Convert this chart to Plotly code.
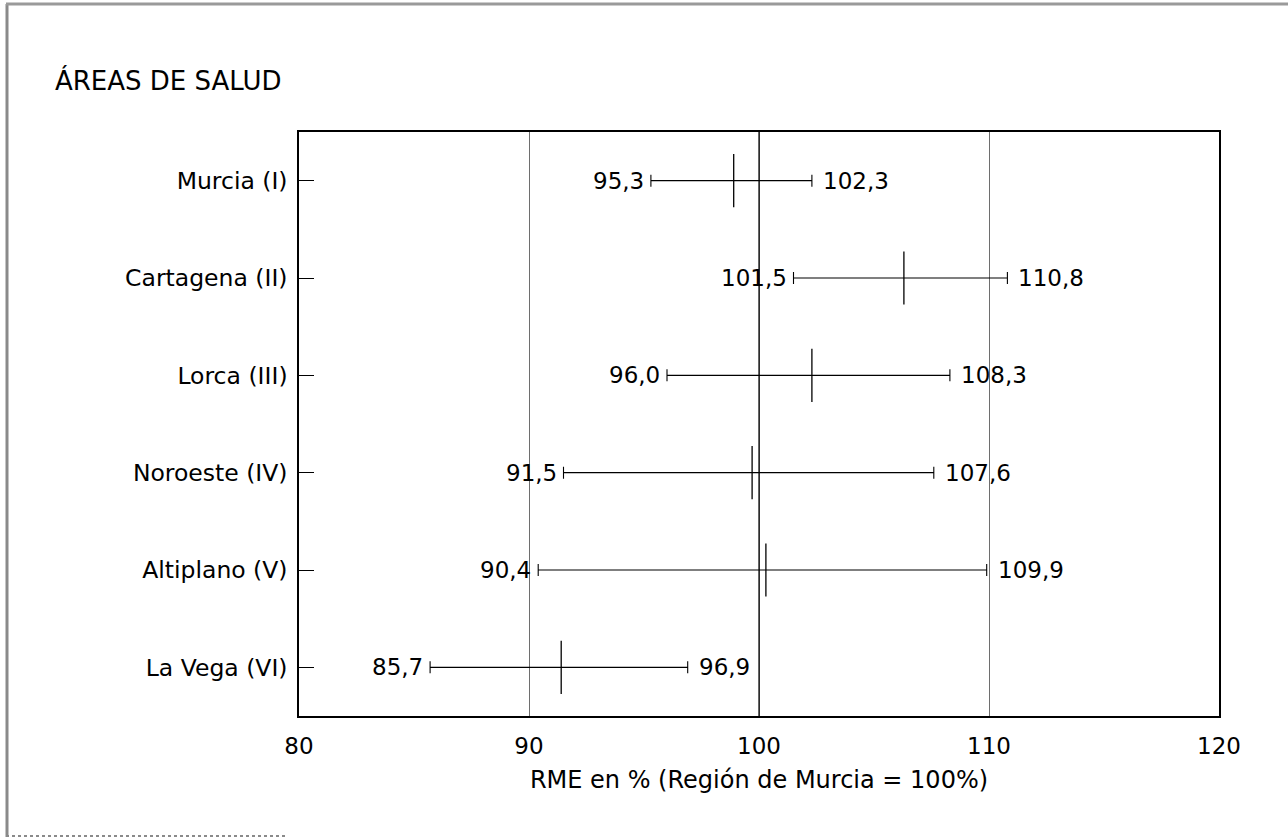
import plotly.graph_objects as go

# ---- data ----
areas = ["Murcia (I)", "Cartagena (II)", "Lorca (III)", "Noroeste (IV)",
         "Altiplano (V)", "La Vega (VI)"]
rme = [98.9, 106.3, 102.3, 99.7, 100.3, 91.4]
ci_low = [95.3, 101.5, 96.0, 91.5, 90.4, 85.7]
ci_high = [102.3, 110.8, 108.3, 107.6, 109.9, 96.9]
x_ticks = [80, 90, 100, 110, 120]
reference_value = 100


def fmt(v):
    return f"{v:.1f}".replace(".", ",")


FONT = "DejaVu Sans"
W, H = 1288, 838
ML, MR, MT, MB = 299, 69, 132, 122

fig = go.Figure()

fig.add_trace(go.Scatter(
    x=rme, y=areas, mode="markers",
    marker=dict(symbol="line-ns", size=38, color="black",
                line=dict(color="black", width=1.3)),
    error_x=dict(type="data", symmetric=False,
                 array=[h - m for h, m in zip(ci_high, rme)],
                 arrayminus=[m - l for m, l in zip(rme, ci_low)],
                 color="black", thickness=1.1, width=6),
    showlegend=False, hoverinfo="skip",
))

annotations = []
for name, lo, hi in zip(areas, ci_low, ci_high):
    annotations.append(dict(x=lo, y=name, xref="x", yref="y", text=fmt(lo),
                            showarrow=False, xanchor="right", yanchor="middle",
                            xshift=-5, font=dict(family=FONT, size=23, color="black")))
    annotations.append(dict(x=hi, y=name, xref="x", yref="y", text=fmt(hi),
                            showarrow=False, xanchor="left", yanchor="middle",
                            xshift=9, font=dict(family=FONT, size=23, color="black")))

pw, ph = W - ML - MR, H - MT - MB


def px(xp):
    return (xp - ML) / pw


def py(yp):
    return (H - MB - yp) / ph


annotations.append(dict(x=px(53), y=py(80), xref="paper", yref="paper",
                        text="ÁREAS DE SALUD", showarrow=False,
                        xanchor="left", yanchor="middle",
                        font=dict(family=FONT, size=26, color="black")))

shapes = [
    # reference line
    dict(type="line", xref="x", yref="paper", x0=reference_value, x1=reference_value,
         y0=0, y1=1, line=dict(color="black", width=1.2), layer="above"),
    # page frame
    dict(type="line", xref="paper", yref="paper", x0=px(7), x1=px(7), y0=py(4), y1=py(837),
         line=dict(color="#8a8a8a", width=3)),
    dict(type="line", xref="paper", yref="paper", x0=px(6), x1=px(1288), y0=py(4), y1=py(4),
         line=dict(color="#9a9a9a", width=3)),
    dict(type="line", xref="paper", yref="paper", x0=px(6), x1=px(285), y0=py(836), y1=py(836),
         line=dict(color="#8a8a8a", width=2, dash="dot")),
]

fig.update_layout(
    width=W, height=H,
    margin=dict(l=ML, r=MR, t=MT, b=MB),
    paper_bgcolor="white", plot_bgcolor="white",
    font=dict(family=FONT, size=23, color="black"),
    annotations=annotations, shapes=shapes,
    xaxis=dict(range=[80, 120], tickvals=x_ticks, ticktext=[str(t) for t in x_ticks],
               showgrid=True, gridcolor="#6e6e6e", gridwidth=1.2,
               showline=True, linecolor="black", linewidth=2, mirror=True,
               ticks="", ticklabelstandoff=8, zeroline=False,
               tickfont=dict(family=FONT, size=23),
               title=dict(text="RME en % (Región de Murcia = 100%)",
                          font=dict(family=FONT, size=24), standoff=14)),
    yaxis=dict(type="category", categoryorder="array", categoryarray=areas,
               range=[5.5, -0.5], showgrid=False,
               showline=True, linecolor="black", linewidth=1.5, mirror=True,
               ticks="inside", ticklen=15, tickwidth=1, tickcolor="black",
               ticklabelstandoff=5, zeroline=False,
               tickfont=dict(family=FONT, size=23.5)),
)

fig.write_html("out.html", config={"displayModeBar": False},
               post_script="document.body.style.margin='0';document.body.style.overflow='hidden';")
